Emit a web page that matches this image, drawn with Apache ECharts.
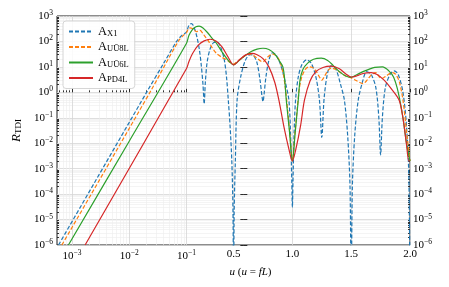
<!DOCTYPE html>
<html><head><meta charset="utf-8">
<script src="https://cdn.jsdelivr.net/npm/echarts@6/dist/echarts.min.js"></script>
<style>html,body{margin:0;padding:0;background:#fff}#c{width:449px;height:287px}</style>
</head><body><div id="c"></div>
<script>
// ---- data (u, R) ----
const dataX1 = [[0.000585,1e-6],[0.0201,1],[0.04,14],[0.067,100],[0.08,160],[0.1,240],[0.115,380],[0.13,480],[0.142,500],[0.155,440],[0.17,300],[0.19,140],[0.21,45],[0.225,12],[0.24,2],[0.25,0.35],[0.26,2.5],[0.275,15],[0.3,50],[0.33,90],[0.36,95],[0.39,60],[0.42,20],[0.44,4],[0.455,0.5],[0.47,0.05],[0.485,0.002],[0.495,2e-5],[0.5,1e-8],[0.505,2e-5],[0.515,0.002],[0.53,0.5],[0.56,4],[0.6,18],[0.64,30],[0.67,28],[0.7,14],[0.725,3],[0.74,0.8],[0.75,0.43],[0.76,0.9],[0.775,4],[0.8,18],[0.83,36],[0.86,30],[0.9,12],[0.94,2.5],[0.97,0.5],[0.985,0.02],[0.995,3e-4],[1.0,3e-5],[1.005,3e-4],[1.015,0.03],[1.027,0.5],[1.05,4],[1.08,12],[1.12,19],[1.16,14],[1.2,4],[1.23,0.5],[1.25,0.017],[1.27,0.6],[1.3,6],[1.33,11],[1.37,8],[1.41,2],[1.442,0.5],[1.47,0.02],[1.49,2e-4],[1.5,1e-8],[1.51,2e-4],[1.53,0.02],[1.56,0.5],[1.6,3],[1.63,6.5],[1.67,5],[1.71,1.5],[1.735,0.1],[1.75,0.0035],[1.765,0.1],[1.79,1.5],[1.83,5],[1.865,7],[1.9,5],[1.94,1],[1.97,0.05],[1.99,5e-4],[2.0,1e-8]];
const dataU8L = [[0.000668,1e-6],[0.023,1],[0.0715,100],[0.09,180],[0.1,220],[0.115,310],[0.13,340],[0.15,320],[0.17,270],[0.185,240],[0.2,265],[0.215,270],[0.24,200],[0.26,150],[0.283,110],[0.32,55],[0.354,34],[0.4,24],[0.44,19],[0.47,15],[0.5,13],[0.53,16],[0.552,19],[0.58,24],[0.608,30],[0.64,32],[0.67,28],[0.7,22],[0.73,17],[0.75,16],[0.77,19],[0.8,27],[0.83,32],[0.86,28],[0.89,18],[0.92,6],[0.94,1.5],[0.96,0.2],[0.98,0.02],[1.0,0.002],[1.02,0.02],[1.04,0.2],[1.06,1.5],[1.08,4],[1.11,8],[1.14,10],[1.17,9.5],[1.2,7],[1.23,4],[1.25,3],[1.27,4],[1.3,7],[1.33,9],[1.37,8],[1.42,5.5],[1.46,4.2],[1.5,3.7],[1.55,2.8],[1.6,2.2],[1.635,3],[1.67,4.8],[1.71,6],[1.74,4],[1.76,3.5],[1.8,4.5],[1.85,6],[1.88,5],[1.91,2.5],[1.94,0.5],[1.97,0.03],[2.0,0.002]];
const dataU6L = [[0.00087,1e-6],[0.01,0.012],[0.1,85],[0.12,170],[0.15,290],[0.18,380],[0.207,400],[0.24,340],[0.283,210],[0.32,130],[0.354,85],[0.4,40],[0.44,22],[0.47,15],[0.5,12],[0.53,15],[0.56,20],[0.6,28],[0.65,40],[0.7,50],[0.75,54],[0.8,48],[0.85,32],[0.89,17],[0.919,10],[0.935,3],[0.948,0.5],[0.975,0.03],[1.0,0.002],[1.025,0.03],[1.05,0.5],[1.065,3],[1.09,8],[1.13,14],[1.18,20],[1.245,22],[1.3,18],[1.35,11],[1.4,6.5],[1.45,4.5],[1.5,3.9],[1.55,5],[1.6,6.5],[1.65,8],[1.7,9.5],[1.766,10],[1.82,7],[1.86,4],[1.9,1],[1.94,0.1],[1.97,0.01],[2.0,0.002]];
const dataPD4L = [[0.0017,1e-6],[0.1,8.7],[0.12,16],[0.15,33],[0.2,72],[0.25,105],[0.3,122],[0.35,105],[0.4,62],[0.45,26],[0.5,12],[0.55,19],[0.6,29],[0.655,34],[0.7,30],[0.75,21],[0.8,10],[0.85,2.5],[0.885,0.5],[0.93,0.04],[0.97,0.006],[1.0,0.002],[1.03,0.006],[1.07,0.05],[1.103,0.5],[1.15,2.8],[1.2,6.5],[1.26,9.5],[1.33,10.7],[1.4,8.5],[1.45,5.5],[1.5,4],[1.55,4.5],[1.6,5.5],[1.67,5.9],[1.72,5],[1.78,3],[1.84,1.4],[1.907,0.5],[1.94,0.1],[1.969,0.01],[1.99,0.002],[2.0,0.002]];

const seriesNames = ['A_X1','A_UU8L','A_UU6L','A_PD4L'];
const seriesSubs = ['X1','U\u016A8L','U\u016A6L','PD4L'];
const seriesColors = ['#1f77b4','#ff7f0e','#2ca02c','#d62728'];
const seriesDashed = [true,true,false,false];
const seriesData = [dataX1,dataU8L,dataU6L,dataPD4L];

const xTickValues = [0.001,0.01,0.1,0.5,1.0,1.5,2.0];
const xTickLabels = [['10','\u22123'],['10','\u22122'],['10','\u22121'],['0.5'],['1.0'],['1.5'],['2.0']];
const yMin = 1e-6, yMax = 1e3;

// ---- axis transform: log below u = 0.1, linear above ----
const K = 118/57.5;
function T(u){ return u <= 0.1 ? Math.log10(u) : -1 + (u-0.1)*K; }
const xMin = -3.26, xMax = T(2.0);

const xMinorU = [];
for (let e=-4; e<=-2; e++) for (let k=2; k<=9; k++){ const v=k*Math.pow(10,e); if (Math.log10(v)>xMin) xMinorU.push(v); }
const yMinorL = [];
for (let e=-6; e<3; e++) for (let k=2; k<=9; k++) yMinorL.push(e+Math.log10(k));

const serif = "'Liberation Serif','DejaVu Serif',serif";
const richTick = { b:{fontSize:11,fontFamily:serif,color:'#000'}, s:{fontSize:7.5,fontFamily:serif,color:'#000',padding:[0,0,6,0]} };
function supText(parts){ return parts.length===1 ? '{b|'+parts[0]+'}' : '{b|'+parts[0]+'}{s|'+parts[1]+'}'; }
function yLab(v){ const e=Math.round(Math.log10(v)); return supText(['10', e<0?'\u2212'+(-e):String(e)]); }
function xLab(t){ for (let i=0;i<xTickValues.length;i++) if (Math.abs(T(xTickValues[i])-t)<1e-6) return supText(xTickLabels[i]); return ''; }

const majorGrid = {color:'#d6d6d6', width:0.8};
const minorGrid = {color:'#ededed', width:0.6};
const tickStyle = {color:'#000', width:0.8};

const option = {
  animation:false,
  backgroundColor:'#fff',
  grid:{left:57,right:39,top:16,bottom:42,show:true,borderColor:'#000',borderWidth:0.9,backgroundColor:'transparent',containLabel:false,outerBoundsMode:'none'},
  legend:{
    left:63, top:21, orient:'vertical', itemWidth:24, itemHeight:10, itemGap:2.5,
    backgroundColor:'rgba(255,255,255,0.85)', borderColor:'#cccccc', borderWidth:0.8, borderRadius:3, padding:[4,6,4,5],
    data: seriesNames,
    itemStyle:{opacity:0},
    formatter: n => '{a|A}{s|'+seriesSubs[seriesNames.indexOf(n)]+'}',
    textStyle:{fontFamily:serif,color:'#000',rich:{a:{fontSize:12.5,fontFamily:serif,color:'#000'},s:{fontSize:8.5,fontFamily:serif,color:'#000',padding:[4,0,0,0]}}}
  },
  xAxis:[
    {type:'value',min:xMin,max:xMax,position:'bottom',
     axisLine:{show:false},
     axisTick:{show:true,inside:true,length:3.5,lineStyle:tickStyle,customValues:xTickValues.map(T)},
     axisLabel:{show:true,margin:4,customValues:xTickValues.map(T),formatter:xLab,rich:richTick},
     splitLine:{show:true,lineStyle:majorGrid},
     name:'{i|u} ({i|u} = {i|fL})', nameLocation:'middle', nameGap:14,
     nameTextStyle:{fontFamily:serif,fontSize:11,color:'#000',padding:[0,0,0,34],rich:{i:{fontFamily:serif,fontSize:11,fontStyle:'italic',color:'#000'}}}
    },
    {type:'value',min:xMin,max:xMax,position:'bottom',
     axisLine:{show:false},
     axisTick:{show:true,inside:true,length:2,lineStyle:tickStyle,customValues:xMinorU.map(T)},
     axisLabel:{show:false},
     splitLine:{show:true,lineStyle:minorGrid}
    }
  ],
  yAxis:[
    {type:'log',logBase:10,min:yMin,max:yMax,position:'left',
     axisLine:{show:false},
     axisTick:{show:true,inside:true,length:3.5,lineStyle:tickStyle},
     axisLabel:{margin:4,formatter:yLab,rich:richTick},
     splitLine:{show:true,lineStyle:majorGrid},
     name:'{r|R}{s|TDI}', nameLocation:'middle', nameGap:30, nameRotate:90,
     nameTextStyle:{rich:{r:{fontFamily:serif,fontSize:13,fontStyle:'italic',color:'#000'},s:{fontFamily:serif,fontSize:9,color:'#000',padding:[5,0,0,0]}}}
    },
    {type:'log',logBase:10,min:yMin,max:yMax,position:'right',
     axisLine:{show:false},
     axisTick:{show:true,inside:true,length:3.5,lineStyle:tickStyle},
     axisLabel:{margin:3,formatter:yLab,rich:richTick},
     splitLine:{show:false}
    },
    {type:'value',min:-6,max:3,position:'left',
     axisLine:{show:false},
     axisTick:{show:true,inside:true,length:2,lineStyle:tickStyle,customValues:yMinorL},
     axisLabel:{show:false},
     splitLine:{show:true,lineStyle:minorGrid}
    },
    {type:'value',min:-6,max:3,position:'right',
     axisLine:{show:false},
     axisTick:{show:true,inside:true,length:2,lineStyle:tickStyle,customValues:yMinorL},
     axisLabel:{show:false},
     splitLine:{show:false}
    }
  ],
  series: seriesNames.map((n,i)=>({
    name:n, type:'line', xAxisIndex:0, yAxisIndex:0,
    data: seriesData[i].map(p=>[T(p[0]),p[1]]),
    showSymbol:false, symbol:'none', smooth:0.3, clip:true,
    lineStyle:{color:seriesColors[i], width:1.2, type: seriesDashed[i]?[4,2]:'solid'},
    itemStyle:{color:seriesColors[i]},
    z:2+i
  }))
};
const chart = echarts.init(document.getElementById('c'));
chart.setOption(option);
</script></body></html>
